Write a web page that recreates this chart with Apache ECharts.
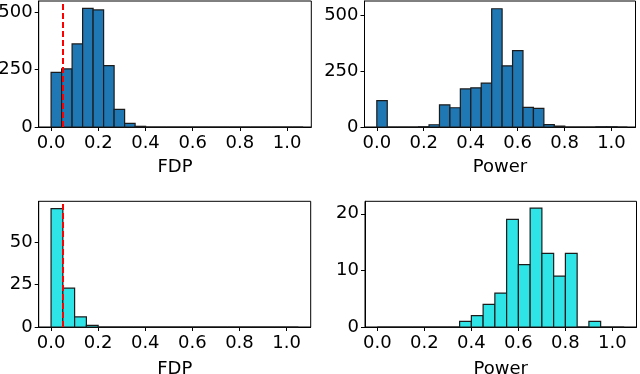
<!DOCTYPE html>
<html lang="en">

<head>
  <meta charset="UTF-8">
  <meta name="viewport" content="width=device-width, initial-scale=1.0">
  <script src="https://cdn.jsdelivr.net/npm/echarts@6.0.0/dist/echarts.min.js"></script>
  <style>
    body,
    html {
      margin: 0;
      padding: 0;
      width: 100%;
      height: 100%;
      background: #ffffff;
      overflow: hidden;
    }

    #main {
      width: 640px;
      height: 374px;
    }
  </style>
</head>

<body>
  <div id="main"></div>
  <script type="text/javascript">
    // bin widths (top row and bottom row histograms)
    var topBinWidth = 0.0445;
    var bottomBinWidth = 0.05;

    // counts per bin
    var fdpTopCounts = [238, 253, 362, 517, 510, 267, 77, 16, 3, 0, 0, 0, 0, 0, 0, 0, 0, 0, 0, 0, 0, 0, 0, 0];
    var powerTopCounts = [118, 0, 0, 0, 1, 10, 99, 86, 170, 175, 196, 528, 273, 341, 88, 83, 11, 4, 0, 0, 0, 1, 1, 0];
    var fdpBottomCounts = [70, 23, 6, 1, 0, 0, 0, 0, 0, 0, 0, 0, 0, 0, 0, 0, 0, 0, 0, 0, 0];
    var powerBottomCounts = [0, 0, 0, 0, 0, 0, 0, 1, 2, 4, 6, 19, 11, 21, 13, 9, 13, 0, 1, 0, 0];

    var xTicks = [0, 0.2, 0.4, 0.6, 0.8, 1.0];
    var yTicksTop = [0, 250, 500];
    var yTicksBottomFdp = [0, 25, 50];
    var yTicksBottomPower = [0, 10, 20];
    var alphaLevel = 0.05;

    var font = 'DejaVu Sans';

    function toBins(counts, width) {
      return counts.map(function (c, i) {
        return [i * width, (i + 1) * width, c];
      });
    }

    function histSeries(idx, counts, width, color, withLine) {
      var s = {
        type: 'custom',
        xAxisIndex: idx,
        yAxisIndex: idx,
        data: toBins(counts, width),
        encode: { x: [0, 1], y: 2 },
        renderItem: function (params, api) {
          var p0 = api.coord([api.value(0), api.value(2)]);
          var p1 = api.coord([api.value(1), 0]);
          return {
            type: 'rect',
            shape: { x: p0[0], y: p0[1], width: p1[0] - p0[0], height: p1[1] - p0[1] },
            style: { fill: color, stroke: '#1c1c1c', lineWidth: 1.2 }
          };
        },
        silent: true,
        animation: false
      };
      if (withLine) {
        s.markLine = {
          silent: true,
          symbol: 'none',
          animation: false,
          label: { show: false },
          lineStyle: { color: '#ff0000', type: [6, 3], width: 2 },
          data: [{ xAxis: alphaLevel }]
        };
      }
      return s;
    }

    function xAxis(idx, name, nameGap) {
      return {
        type: 'value',
        gridIndex: idx,
        min: -0.0525,
        max: 1.1025,
        name: name,
        nameLocation: 'middle',
        nameGap: nameGap,
        nameTextStyle: { fontFamily: font, fontSize: 18, color: '#000' },
        axisLine: { show: true, onZero: false, lineStyle: { color: '#000', width: 1 } },
        axisTick: { show: true, length: 4, customValues: xTicks, lineStyle: { color: '#000' } },
        axisLabel: {
          customValues: xTicks,
          margin: 7,
          fontFamily: font,
          fontSize: 18,
          color: '#000',
          formatter: function (v) { return v.toFixed(1); }
        },
        splitLine: { show: false }
      };
    }

    function yAxis(idx, max, ticks) {
      return {
        type: 'value',
        gridIndex: idx,
        min: 0,
        max: max,
        axisLine: { show: true, onZero: false, lineStyle: { color: '#000', width: 1 } },
        axisTick: { show: true, length: 4, customValues: ticks, lineStyle: { color: '#000' } },
        axisLabel: {
          customValues: ticks,
          margin: 6,
          fontFamily: font,
          fontSize: 18,
          color: '#000'
        },
        splitLine: { show: false }
      };
    }

    var myChart = echarts.init(document.getElementById('main'));

    var gridStyle = {
      show: true,
      borderColor: '#000',
      borderWidth: 1,
      backgroundColor: 'transparent',
      containLabel: false,
      outerBoundsMode: 'none'
    };

    var option = {
      backgroundColor: '#ffffff',
      animation: false,
      grid: [
        Object.assign({ left: 38.7, width: 272.6, top: 1, height: 126 }, gridStyle),
        Object.assign({ left: 364.5, width: 271, top: 1, height: 126 }, gridStyle),
        Object.assign({ left: 38.7, width: 272, top: 201.3, height: 125.7 }, gridStyle),
        Object.assign({ left: 365, width: 271.5, top: 201.3, height: 125.7 }, gridStyle)
      ],
      xAxis: [
        xAxis(0, 'FDP', 31),
        xAxis(1, 'Power', 31),
        xAxis(2, 'FDP', 33),
        xAxis(3, 'Power', 33)
      ],
      yAxis: [
        yAxis(0, 549, yTicksTop),
        yAxis(1, 562.5, yTicksTop),
        yAxis(2, 74.3, yTicksBottomFdp),
        yAxis(3, 22.2, yTicksBottomPower)
      ],
      series: [
        histSeries(0, fdpTopCounts, topBinWidth, '#1f77b4', true),
        histSeries(1, powerTopCounts, topBinWidth, '#1f77b4', false),
        histSeries(2, fdpBottomCounts, bottomBinWidth, '#2ee4e6', true),
        histSeries(3, powerBottomCounts, bottomBinWidth, '#2ee4e6', false)
      ]
    };

    myChart.setOption(option);
  </script>
</body>

</html>
